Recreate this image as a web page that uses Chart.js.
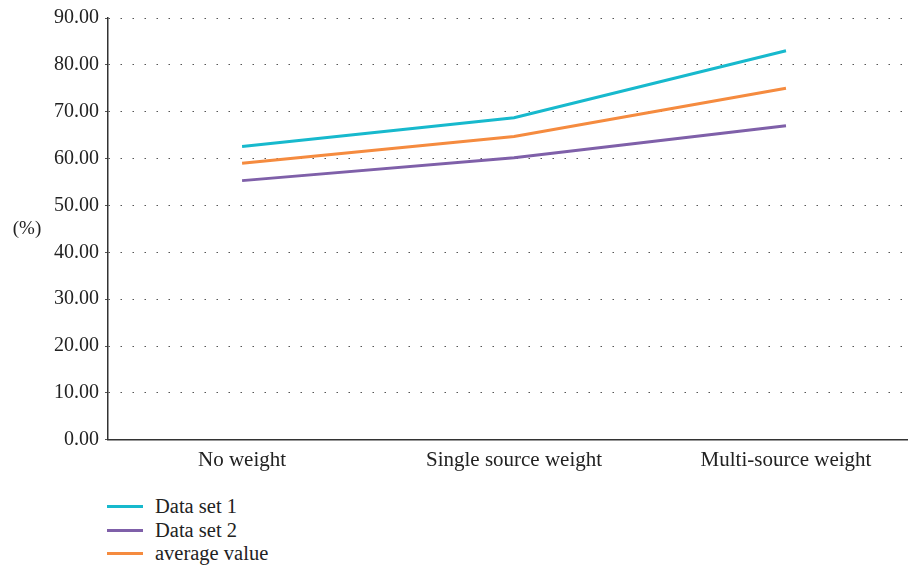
<!DOCTYPE html>
<html><head><meta charset="utf-8">
<script src="https://cdn.jsdelivr.net/npm/chart.js@4/dist/chart.umd.min.js"></script>
<style>
html,body{margin:0;padding:0;background:#fff;}
#wrap{position:absolute;left:0;top:0;width:908px;height:473px;}
#legend{position:absolute;left:107px;top:495px;font-family:"Liberation Serif",serif;font-size:20.5px;color:#222;}
.item{display:flex;align-items:center;height:23.5px;}
.sw{width:36px;height:3px;margin-right:12px;}
</style></head>
<body>
<div id="wrap"><canvas id="c"></canvas></div>
<div id="legend"></div>
<script>
const categories = ["No weight", "Single source weight", "Multi-source weight"];
const dataSet1 = [62.6, 68.7, 83.0];
const dataSet2 = [55.3, 60.2, 67.0];
const averageValue = [59.0, 64.7, 75.0];
const seriesLabels = ["Data set 1", "Data set 2", "average value"];
const seriesColors = ["#17B9CD", "#7F60A9", "#F58B3F"];
const yTicks = [0,10,20,30,40,50,60,70,80,90];

const series = [dataSet1, dataSet2, averageValue];
const datasets = series.map((s,i)=>({
  label: seriesLabels[i],
  data: s.map((v,j)=>({x:j,y:v})),
  borderColor: seriesColors[i],
  backgroundColor: seriesColors[i],
  borderWidth: 3,
  pointRadius: 0,
  tension: 0,
  fill: false
}));

const yTitle = {
  id:'yTitle',
  afterDraw(chart){
    const ctx = chart.ctx;
    ctx.save();
    ctx.font = '19px "Liberation Serif", serif';
    ctx.fillStyle = '#222';
    ctx.textAlign = 'center';
    ctx.textBaseline = 'middle';
    ctx.fillText('(%)', 27, (chart.chartArea.top+chart.chartArea.bottom)/2);
    ctx.restore();
  }
};

const yFont = {family:'"Liberation Serif", serif', size:20};
const xFont = {family:'"Liberation Serif", serif', size:21};
new Chart(document.getElementById('c'), {
  type:'line',
  data:{datasets},
  options:{
    responsive:true, maintainAspectRatio:false, animation:false,
    layout:{padding:{left:0,right:1,top:6,bottom:0}},
    plugins:{legend:{display:false}, tooltip:{enabled:false}},
    scales:{
      x:{type:'linear', min:-0.493, max:2.445,
        afterBuildTicks(scale){ scale.ticks = categories.map((c,i)=>({value:i})); },
        ticks:{font:xFont, color:'#222', padding:0, callback:(v)=>categories[v]},
        grid:{display:false},
        border:{display:true,color:'#333',width:1.5}
      },
      y:{min:0,max:90,
        afterBuildTicks(scale){ scale.ticks = yTicks.map(v=>({value:v})); },
        afterFit(scale){ scale.width = 108; },
        ticks:{font:yFont, color:'#222', padding:6, callback:(v)=>v.toFixed(2)},
        grid:{color:'#555', lineWidth:1, tickLength:3, drawTicks:true},
        border:{display:true,color:'#333',width:1.5,dash:[1.5,10.5]}
      }
    }
  },
  plugins:[yTitle]
});

const lg = document.getElementById('legend');
seriesLabels.forEach((l,i)=>{
  const d=document.createElement('div'); d.className='item';
  d.innerHTML='<span class="sw" style="background:'+seriesColors[i]+'"></span><span>'+l+'</span>';
  lg.appendChild(d);
});
</script>
</body></html>
